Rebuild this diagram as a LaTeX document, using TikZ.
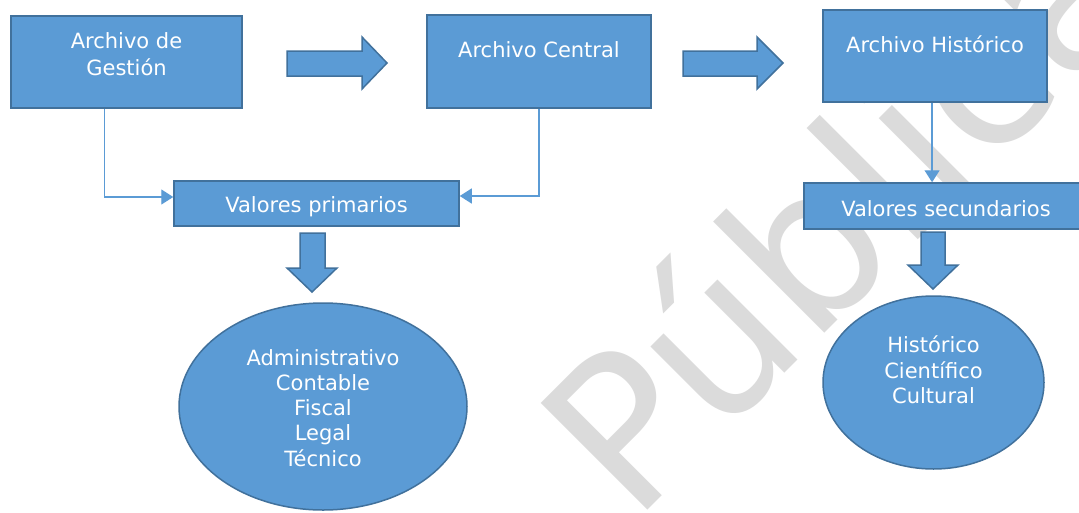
\documentclass[tikz,border=0pt]{standalone}
\usepackage{fontspec}
\setmainfont{DejaVu Sans}
\usetikzlibrary{arrows.meta,shapes.geometric,calc}
\definecolor{boxfill}{HTML}{5B9BD5}
\definecolor{boxline}{HTML}{41719C}
\definecolor{wmgray}{HTML}{DBDBDB}
\definecolor{connblue}{HTML}{5B9BD5}
\begin{document}
\begin{tikzpicture}[x=1pt,y=-1pt,
  box/.style={draw=boxline,fill=boxfill,line width=1.5pt,inner sep=0pt,rectangle},
  oval/.style={draw=boxline,fill=boxfill,line width=1.5pt,inner sep=0pt,ellipse},
  blockarrow/.style={draw=boxline,fill=boxfill,line width=1.5pt,line join=miter},
  lbl/.style={text=white,font=\fontsize{21}{25.2}\selectfont,align=center,inner sep=0pt,anchor=base},
  conn/.style={draw=connblue,line width=1.2pt,-{Triangle[length=12pt,width=15pt]}},
]
\useasboundingbox (0,0) rectangle (1079,512);
\fill[white] (0,0) rectangle (1079,512);
% watermark
\node[text=wmgray, font=\fontsize{207}{207}\selectfont, rotate=45, anchor=base west, inner sep=0pt] (wm) at (633,525) {Pública};

% boxes
\node[box, minimum width=231pt, minimum height=92pt] (ag) at (126.5,62) {};
\node[box, minimum width=224pt, minimum height=93pt] (ac) at (539,61.5) {};
\node[box, minimum width=224pt, minimum height=92pt] (ah) at (935,56) {};
\node[box, minimum width=285pt, minimum height=45pt] (vp) at (316.5,203.5) {};
\node[box, minimum width=286pt, minimum height=46pt] (vs) at (947,206) {};

% ellipses
\node[oval, minimum width=288pt, minimum height=207pt] (e1) at (323,406.5) {};
\node[oval, minimum width=221pt, minimum height=173pt] (e2) at (933.5,382.5) {};

% labels (multi-line nodes: base = last line's baseline)
\node[lbl, font=\fontsize{21}{26.5}\selectfont] (tag) at (126.5,75) {Archivo de\\Gestión};
\node[lbl] (tac) at (539,57) {Archivo Central};
\node[lbl] (tah) at (935,52) {Archivo Histórico};
\node[lbl] (tvp) at (316.5,212) {Valores primarios};
\node[lbl] (tvs) at (946,216.5) {Valores secundarios};
\node[lbl, font=\fontsize{21}{25.1}\selectfont] (te1) at (323,466) {Administrativo\\Contable\\Fiscal\\Legal\\Técnico};
\node[lbl, font=\fontsize{21}{25.3}\selectfont] (te2) at (933.5,403.3) {Histórico\\Científico\\Cultural};

% block arrows
\draw[blockarrow] (287,51) -- (362,51) -- (362,37) -- (387,63) -- (362,89) -- (362,76) -- (287,76) -- cycle;
\draw[blockarrow] (683,51) -- (757,51) -- (757,37) -- (783,63) -- (757,89) -- (757,76) -- (683,76) -- cycle;
\draw[blockarrow] (300,233) -- (325,233) -- (325,268) -- (337,268) -- (312,292) -- (287,268) -- (300,268) -- cycle;
\draw[blockarrow] (921,232) -- (945,232) -- (945,265) -- (958,265) -- (933,289) -- (908,265) -- (921,265) -- cycle;

% connectors
\coordinate (agout) at ($(ag.south west)!0.407!(ag.south east)$);
\coordinate (acout) at ($(ac.south west)!0.5!(ac.south east)$);
\coordinate (ahout) at ($(ah.south west)!0.487!(ah.south east)$);
\draw[conn] (agout) |- ($(vp.west)+(0,-6.5)$);
\draw[conn] (acout) |- ($(vp.east)+(0,-7.5)$);
\draw[conn] (ahout) -- (ahout |- vs.north);
\end{tikzpicture}
\end{document}
